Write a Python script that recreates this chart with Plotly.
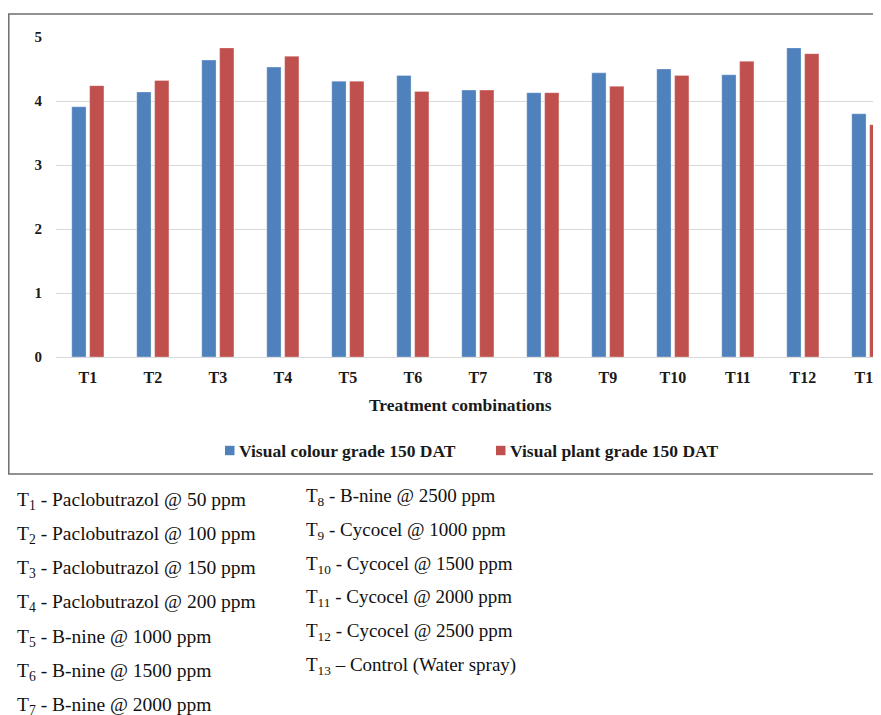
import plotly.graph_objects as go

# ---- data ----
categories = ["T1", "T2", "T3", "T4", "T5", "T6", "T7", "T8", "T9", "T10", "T11", "T12", "T13"]
colour_grade = [3.91, 4.14, 4.64, 4.53, 4.31, 4.40, 4.17, 4.13, 4.44, 4.50, 4.41, 4.83, 3.80]
plant_grade = [4.24, 4.32, 4.83, 4.70, 4.31, 4.15, 4.17, 4.13, 4.23, 4.40, 4.62, 4.74, 3.63]
series_names = ["Visual colour grade 150 DAT", "Visual plant grade 150 DAT"]
y_ticks = [0, 1, 2, 3, 4, 5]
x_title = "Treatment combinations"

notes_left = [
    ("1", "- Paclobutrazol @ 50 ppm"),
    ("2", "- Paclobutrazol @ 100 ppm"),
    ("3", "- Paclobutrazol @ 150 ppm"),
    ("4", "- Paclobutrazol @ 200 ppm"),
    ("5", "- B-nine @ 1000 ppm"),
    ("6", "- B-nine @ 1500 ppm"),
    ("7", "- B-nine @ 2000 ppm"),
]
notes_right = [
    ("8", "- B-nine @ 2500 ppm"),
    ("9", "- Cycocel @ 1000 ppm"),
    ("10", "- Cycocel @ 1500 ppm"),
    ("11", "- Cycocel @ 2000 ppm"),
    ("12", "- Cycocel @ 2500 ppm"),
    ("13", "\u2013 Control (Water spray)"),
]

# ---- layout geometry (page pixels; page body has an 8px margin) ----
OFF = 8
W, H = 881 - OFF, 715 - OFF
PL, PT, PB, PR = 56, 37, 357, 881      # plot area edges in page px
FB = OFF + H                           # figure bottom in page px
colors = ["#4F81BD", "#C0504D"]
serif = "Liberation Serif"

def px(x):
    return (x - PL) / (PR - PL)

def py(y):
    return (PB - y) / (PB - PT)

fig = go.Figure()
for name, vals, col in zip(series_names, [colour_grade, plant_grade], colors):
    fig.add_trace(go.Bar(x=categories, y=vals, name=name, marker_color=col,
                         marker_line=dict(width=0.6, color="rgba(255,255,255,0.5)")))

cat_w = 65.0
fig.update_layout(
    width=W, height=H,
    margin=dict(l=PL - OFF, r=881 - PR, t=PT - OFF, b=FB - PB, pad=0),
    paper_bgcolor="white", plot_bgcolor="white",
    barmode="group", bargap=0.45, bargroupgap=0.2,
    showlegend=False,
    font=dict(family=serif, color="#1a1a1a"),
    xaxis=dict(range=[-0.49, -0.49 + (PR - PL) / cat_w], showgrid=False,
               showline=True, linecolor="#d9d9d9", linewidth=1,
               ticks="outside", ticklen=6, tickcolor="rgba(0,0,0,0)",
               tickfont=dict(size=16, family=serif, weight="bold", color="#1a1a1a"),
               fixedrange=True),
    yaxis=dict(range=[0, 5], tickvals=y_ticks, showgrid=True, gridcolor="#d9d9d9",
               gridwidth=1, zeroline=False, ticks="outside", ticklen=10,
               tickcolor="rgba(0,0,0,0)",
               tickfont=dict(size=15, family=serif, weight="bold", color="#1a1a1a")),
)

# outer chart border
fig.add_shape(type="rect", xref="paper", yref="paper",
              x0=px(8.8), x1=px(895), y0=py(474), y1=py(14),
              line=dict(color="#6e6e6e", width=1.5), fillcolor="rgba(0,0,0,0)", layer="below")

# axis title
fig.add_annotation(xref="paper", yref="paper", x=px(460), y=py(405), text="<b>%s</b>" % x_title,
                   showarrow=False, font=dict(size=17.5, family=serif, color="#1a1a1a"),
                   xanchor="center", yanchor="middle")

# manual legend
leg_y = 450.5
leg_x = [225, 496]
for name, col, lx in zip(series_names, colors, leg_x):
    fig.add_shape(type="rect", xref="paper", yref="paper",
                  x0=px(lx), x1=px(lx + 9.5), y0=py(leg_y + 4.7), y1=py(leg_y - 4.7),
                  line=dict(width=0), fillcolor=col)
    fig.add_annotation(xref="paper", yref="paper", x=px(lx + 12), y=py(leg_y),
                       text="<b>%s</b>" % name, showarrow=False,
                       font=dict(size=17.5, family=serif, color="#1a1a1a"),
                       xanchor="left", yanchor="middle")

# treatment notes
for i, (sub, txt) in enumerate(notes_left):
    fig.add_annotation(xref="paper", yref="paper", x=px(15), y=py(500.5 + 34.3 * i),
                       text="T<sub>%s</sub> %s" % (sub, txt), showarrow=False,
                       font=dict(size=19.5, family=serif, color="#111111"),
                       xanchor="left", yanchor="middle")
for i, (sub, txt) in enumerate(notes_right):
    fig.add_annotation(xref="paper", yref="paper", x=px(304), y=py(497 + 33.8 * i),
                       text="T<sub>%s</sub> %s" % (sub, txt), showarrow=False,
                       font=dict(size=19, family=serif, color="#111111"),
                       xanchor="left", yanchor="middle")

fig.write_html("out.html")
